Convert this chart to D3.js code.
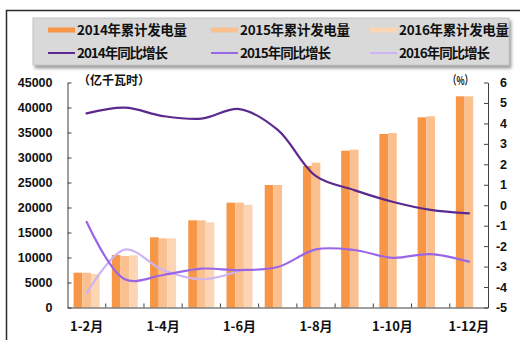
<!DOCTYPE html>
<html><head><meta charset="utf-8">
<script src="https://cdn.jsdelivr.net/npm/d3@7"></script>
<style>
html,body{margin:0;padding:0;background:#fff;}
svg{display:block;}
</style></head>
<body>
<svg id="c" width="520" height="340"></svg>
<script>
const categories = ["1-2月","1-3月","1-4月","1-5月","1-6月","1-7月","1-8月","1-9月","1-10月","1-11月","1-12月"];
const gen2014 = [6960,10500,14040,17440,20960,24500,28300,31360,34700,38040,42240];
const gen2015 = [6960,10300,13830,17440,20960,24500,28960,31560,34900,38240,42240];
const gen2016 = [6700,10440,13830,17040,20560,null,null,null,null,null,null];
const yoy2014 = [4.49,4.77,4.36,4.23,4.70,3.68,1.42,0.74,0.17,-0.23,-0.40];
const yoy2015 = [-0.81,-3.62,-3.41,-3.10,-3.17,-3.02,-2.16,-2.19,-2.57,-2.39,-2.76];
const yoy2016 = [-4.31,-2.17,-3.17,-3.62,-3.20,null,null,null,null,null,null];
const leftTicks = [0,5000,10000,15000,20000,25000,30000,35000,40000,45000];
const rightTicks = [-5,-4,-3,-2,-1,0,1,2,3,4,5,6];
const barNames = ["2014年累计发电量","2015年累计发电量","2016年累计发电量"];
const lineNames = ["2014年同比增长","2015年同比增长","2016年同比增长"];
const barColors = ["#F79646","#FAC08F","#FCD5B4"];
const lineColors = ["#5C2A8E","#9A66E8","#CDB4F2"];

const svg = d3.select("#c");
const cjk = "'Noto Sans CJK SC','Noto Sans',sans-serif";
const num = "'Liberation Sans',Arial,sans-serif";

// frame
svg.append("path").attr("d","M6.5,340 V10.5 H520").attr("fill","none").attr("stroke","#2a2a2a").attr("stroke-width",1.5);

// legend
const defs = svg.append("defs");
const f = defs.append("filter").attr("id","sh").attr("x","-5%").attr("y","-20%").attr("width","115%").attr("height","160%");
f.append("feDropShadow").attr("dx",2).attr("dy",3).attr("stdDeviation",1.5).attr("flood-color","#888").attr("flood-opacity",0.8);
svg.append("rect").attr("x",33).attr("y",18).attr("width",476).attr("height",47)
  .attr("fill","#D9D9D9").attr("stroke","#c4c4c4").attr("filter","url(#sh)");
const colX = [48,211,370];
const lg = svg.append("g");
barNames.forEach((n,i)=>{
  lg.append("rect").attr("x",colX[i]).attr("y",27.5).attr("width",27).attr("height",5).attr("fill",barColors[i]);
  lg.append("text").attr("x",colX[i]+29).attr("y",30).attr("dy","0.36em")
    .attr("font-family",cjk).attr("font-weight","bold").attr("font-size",13.5)
    .attr("textLength",110).attr("lengthAdjust","spacing").attr("fill","#111").text(n);
});
lineNames.forEach((n,i)=>{
  lg.append("line").attr("x1",colX[i]).attr("x2",colX[i]+27).attr("y1",53).attr("y2",53)
    .attr("stroke",lineColors[i]).attr("stroke-width",2);
  lg.append("text").attr("x",colX[i]+29).attr("y",53).attr("dy","0.36em")
    .attr("font-family",cjk).attr("font-weight","bold").attr("font-size",13.5)
    .attr("textLength",91).attr("lengthAdjust","spacing").attr("fill","#111").text(n);
});

// scales
const x = d3.scaleBand().domain(categories).range([67.5,488]).padding(0);
const x1 = d3.scaleBand().domain([0,1,2]).range([0,x.bandwidth()]).paddingInner(0).paddingOuter(0.7);
const yL = d3.scaleLinear().domain([0,45000]).range([307.5,82.5]);
const yR = d3.scaleLinear().domain([-5,6]).range([307.5,82.5]);

// bars
const series = [gen2014,gen2015,gen2016];
const bars = svg.append("g");
series.forEach((s,si)=>{
  bars.selectAll(null).data(categories.map((c,i)=>({c,v:s[i]})).filter(d=>d.v!=null))
    .enter().append("rect")
    .attr("x",d=>x(d.c)+x1(si)).attr("width",x1.bandwidth())
    .attr("y",d=>yL(d.v)).attr("height",d=>yL(0)-yL(d.v))
    .attr("fill",barColors[si]);
});

// lines
const lineGen = d3.line().defined(d=>d.v!=null)
  .x(d=>x(d.c)+x.bandwidth()/2).y(d=>yR(d.v)).curve(d3.curveCatmullRom.alpha(0.5));
[yoy2016,yoy2015,yoy2014].forEach((s,k)=>{
  const i = 2-k;
  svg.append("path").datum(categories.map((c,j)=>({c,v:s[j]})))
    .attr("d",lineGen).attr("fill","none").attr("stroke",lineColors[i]).attr("stroke-width",2.2)
    .attr("stroke-linejoin","round").attr("stroke-linecap","round");
});

// axes
const axL = svg.append("g").attr("transform","translate(67.5,0)")
  .call(d3.axisLeft(yL).tickValues(leftTicks).tickSizeInner(-4).tickSizeOuter(0).tickPadding(15).tickFormat(d3.format("d")));
const axR = svg.append("g").attr("transform","translate(488,0)")
  .call(d3.axisRight(yR).tickValues(rightTicks).tickSizeInner(-4).tickSizeOuter(0).tickPadding(8).tickFormat(d=>d));
const axB = svg.append("g").attr("transform","translate(0,307.5)")
  .call(d3.axisBottom(x).tickSize(0).tickPadding(14).tickFormat((d,i)=>i%2===0?d:""));
[axL,axR,axB].forEach(a=>{
  a.select(".domain").attr("stroke","#404040").attr("stroke-width",1);
  a.selectAll(".tick line").attr("stroke","#404040");
});
axL.selectAll("text").attr("font-family",num).attr("font-weight","bold").attr("font-size",12.5).attr("fill","#111");
axR.selectAll("text").attr("font-family",num).attr("font-weight","bold").attr("font-size",12.5).attr("fill","#111")
  .attr("text-anchor","end").attr("x",19);
axB.selectAll("text").attr("font-family",cjk).attr("font-weight","bold").attr("font-size",13).attr("fill","#111");
// category boundary ticks on x axis
axB.selectAll(null).data(categories.slice(1)).enter().append("line")
  .attr("x1",d=>x(d)).attr("x2",d=>x(d)).attr("y1",0).attr("y2",-4).attr("stroke","#404040");

// unit labels
svg.append("text").attr("x",78).attr("y",81).attr("dy","0.36em").attr("font-family",cjk).attr("font-weight","bold")
  .attr("font-size",12).attr("fill","#111").text("（亿千瓦时）");
svg.append("text").attr("x",448).attr("y",81).attr("dy","0.36em").attr("font-family",cjk).attr("font-weight","bold")
  .attr("font-size",12).attr("textLength",25).attr("lengthAdjust","spacingAndGlyphs").attr("fill","#111").text("（%）");
</script>
</body></html>
